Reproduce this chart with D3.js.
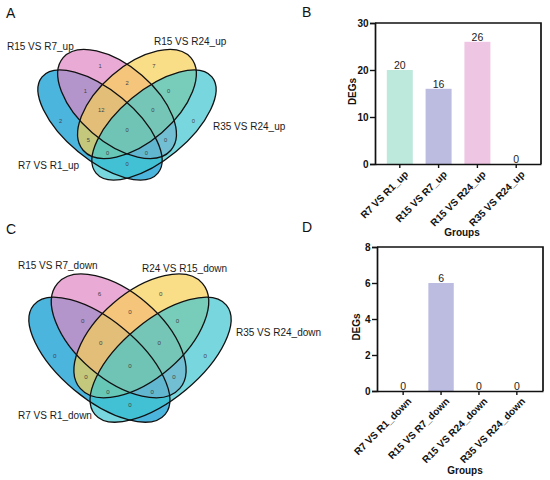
<!DOCTYPE html>
<html><head><meta charset="utf-8">
<script src="https://cdn.jsdelivr.net/npm/d3@7"></script>
<style>body{margin:0;background:#fff}svg{display:block}</style>
</head><body>
<svg id="fig" width="550" height="480"></svg>
<script>
// ---------------- DATA ----------------
const upSetNames = ["R7 VS R1_up", "R15 VS R7_up", "R15 VS R24_up", "R35 VS R24_up"];
const downSetNames = ["R7 VS R1_down", "R15 VS R7_down", "R24 VS R15_down", "R35 VS R24_down"];
// Venn regions: A = set 0, B = set 1, C = set 2, D = set 3
const regionKeys = ["B", "C", "BC", "AB", "CD", "A", "D", "ABC", "BCD", "ABCD", "AC", "BD", "ACD", "ABD", "AD"];
const upRegionCounts = [1, 7, 2, 1, 0, 2, 0, 12, 0, 0, 5, 0, 0, 0, 0];
const downRegionCounts = [6, 0, 0, 0, 0, 0, 0, 0, 0, 0, 0, 0, 0, 0, 0];

const upBarCategories = ["R7 VS R1_up", "R15 VS R7_up", "R15 VS R24_up", "R35 VS R24_up"];
const upBarValues = [20, 16, 26, 0];
const downBarCategories = ["R7 VS R1_down", "R15 VS R7_down", "R15 VS R24_down", "R35 VS R24_down"];
const downBarValues = [0, 6, 0, 0];
const upTicks = [0, 10, 20, 30];
const downTicks = [0, 2, 4, 6, 8];

// ---------------- LAYOUT / STYLE ----------------
const FONT = "'Liberation Sans', Arial, Helvetica, sans-serif";
const svg = d3.select("#fig");
svg.append("rect").attr("width", 550).attr("height", 480).attr("fill", "#fff");

// ellipse geometry in normalised venn units
const ellipseShapes = [
  {cx: -0.303, cy: 0.112, a: 0.846, b: 0.389, rot: 39.7, color: "#0096d0"},
  {cx: -0.112, cy: -0.124, a: 0.798, b: 0.427, rot: 40.7, color: "#e086c3"},
  {cx: 0.112, cy: -0.124, a: 0.798, b: 0.427, rot: -40.7, color: "#f8d054"},
  {cx: 0.303, cy: 0.112, a: 0.846, b: 0.389, rot: -39.7, color: "#3ec6d0"}
];
const regionPos = {
  B: [-0.303, -0.547], C: [0.303, -0.547], BC: [0, -0.363],
  AB: [-0.469, -0.273], CD: [0.469, -0.273],
  A: [-0.746, 0.067], D: [0.746, 0.067],
  ABC: [-0.29, -0.056], BCD: [0.29, -0.056], ABCD: [0, 0.169],
  AC: [-0.435, 0.281], BD: [0.435, 0.281],
  ACD: [-0.219, 0.424], ABD: [0.219, 0.424], AD: [0, 0.551]
};

function drawVenn(cfg, setNames, counts) {
  const x = d3.scaleLinear().domain([-1, 1]).range([cfg.x0 - cfg.u, cfg.x0 + cfg.u]);
  const y = d3.scaleLinear().domain([-1, 1]).range([cfg.y0 - cfg.u, cfg.y0 + cfg.u]);
  const len = v => x(v) - x(0);
  const g = svg.append("g");
  g.selectAll("ellipse.fill").data(ellipseShapes).join("ellipse")
    .attr("class", "fill")
    .attr("transform", d => `translate(${x(d.cx)},${y(d.cy)}) rotate(${d.rot})`)
    .attr("rx", d => len(d.a)).attr("ry", d => len(d.b))
    .attr("fill", d => d.color).attr("fill-opacity", 0.7).attr("stroke", "none");
  g.selectAll("ellipse.line").data(ellipseShapes).join("ellipse")
    .attr("class", "line")
    .attr("transform", d => `translate(${x(d.cx)},${y(d.cy)}) rotate(${d.rot})`)
    .attr("rx", d => len(d.a)).attr("ry", d => len(d.b))
    .attr("fill", "none").attr("stroke", "#111").attr("stroke-width", 1.3);
  g.selectAll("text.cnt").data(regionKeys).join("text")
    .attr("class", "cnt")
    .attr("x", k => x(regionPos[k][0])).attr("y", k => y(regionPos[k][1]))
    .attr("text-anchor", "middle").attr("dominant-baseline", "central")
    .attr("font-family", FONT).attr("font-size", cfg.cntSize).attr("fill", "#444")
    .text((k, i) => counts[i]);
  g.selectAll("text.setname").data(cfg.labels).join("text")
    .attr("class", "setname")
    .attr("x", d => d.x).attr("y", d => d.y)
    .attr("font-family", FONT).attr("font-size", 10).attr("fill", "#1a1a1a")
    .text(d => setNames[d.set]);
}

drawVenn({x0: 127, y0: 115, u: 89, cntSize: 5.8,
  labels: [{set: 0, x: 18, y: 168.5}, {set: 1, x: 7, y: 50}, {set: 2, x: 154, y: 45}, {set: 3, x: 213, y: 129.5}]},
  upSetNames, upRegionCounts);
drawVenn({x0: 130, y0: 348.4, u: 101, cntSize: 6.2,
  labels: [{set: 0, x: 18, y: 418.5}, {set: 1, x: 18, y: 268.5}, {set: 2, x: 142, y: 271.5}, {set: 3, x: 236, y: 335.5}]},
  downSetNames, downRegionCounts);

const barColors = ["#bde8dc", "#bcbbe0", "#efc5e4", "#f3dca0"];

function drawBars(cfg, cats, vals, ticks) {
  const x = d3.scaleBand().domain(cats).range([cfg.left, cfg.right])
    .paddingInner(0.33).paddingOuter(cfg.po);
  const y = d3.scaleLinear().domain([0, ticks[ticks.length - 1]]).range([cfg.bottom, cfg.top]);
  const g = svg.append("g");
  g.selectAll("rect.bar").data(cats).join("rect")
    .attr("class", "bar")
    .attr("x", c => x(c)).attr("width", x.bandwidth())
    .attr("y", (c, i) => y(vals[i])).attr("height", (c, i) => y(0) - y(vals[i]))
    .attr("fill", (c, i) => barColors[i]);
  g.selectAll("text.val").data(cats).join("text")
    .attr("class", "val")
    .attr("x", c => x(c) + x.bandwidth() / 2).attr("y", (c, i) => y(vals[i]) - 1)
    .attr("text-anchor", "middle").attr("font-family", FONT).attr("font-size", 10.5).attr("fill", "#222")
    .text((c, i) => vals[i]);
  // frame
  g.append("path")
    .attr("d", `M${cfg.left},${cfg.top}H${cfg.right}V${cfg.bottom}`)
    .attr("fill", "none").attr("stroke", "#111").attr("stroke-width", 1.7);
  const ya = g.append("g").attr("transform", `translate(${cfg.left},0)`)
    .call(d3.axisLeft(y).tickValues(ticks).tickSize(5).tickPadding(1.5).tickFormat(d3.format("d")));
  const xa = g.append("g").attr("transform", `translate(0,${cfg.bottom})`)
    .call(d3.axisBottom(x).tickSize(4).tickSizeOuter(0));
  [ya, xa].forEach(a => {
    a.select(".domain").attr("stroke", "#111").attr("stroke-width", 1.7);
    a.selectAll(".tick line").attr("stroke", "#111").attr("stroke-width", 1.4);
    a.selectAll("text").attr("font-family", FONT).attr("font-weight", "bold").attr("fill", "#111");
  });
  ya.selectAll("text").attr("font-size", 10);
  xa.selectAll("text").attr("font-size", 10)
    .attr("text-anchor", "end").attr("x", 0).attr("y", 0).attr("dy", "0.71em")
    .attr("transform", "translate(4,6) rotate(-45)");
  g.append("text").attr("transform", `translate(${cfg.yTitleX},${cfg.yTitleY}) rotate(-90)`)
    .attr("text-anchor", "middle").attr("font-family", FONT).attr("font-weight", "bold")
    .attr("font-size", 10).attr("fill", "#111").text("DEGs");
  g.append("text").attr("x", cfg.xTitleX).attr("y", cfg.xTitleY)
    .attr("text-anchor", "middle").attr("font-family", FONT).attr("font-weight", "bold")
    .attr("font-size", 10).attr("fill", "#111").text("Groups");
}

drawBars({left: 375, right: 541, top: 23, bottom: 164, po: 0.304,
  yTitleX: 355.6, yTitleY: 91.5, xTitleX: 462, xTitleY: 235.5},
  upBarCategories, upBarValues, upTicks);
drawBars({left: 377, right: 543, top: 247, bottom: 391, po: 0.355,
  yTitleX: 359.6, yTitleY: 327, xTitleX: 465, xTitleY: 473.5},
  downBarCategories, downBarValues, downTicks);

// panel letters
const panelLetters = [{t: "A", x: 6, y: 18}, {t: "B", x: 302, y: 17}, {t: "C", x: 6, y: 234}, {t: "D", x: 302, y: 232}];
svg.selectAll("text.panel").data(panelLetters).join("text")
  .attr("class", "panel").attr("x", d => d.x).attr("y", d => d.y)
  .attr("font-family", FONT).attr("font-size", 14).attr("fill", "#111").text(d => d.t);
</script>
</body></html>
